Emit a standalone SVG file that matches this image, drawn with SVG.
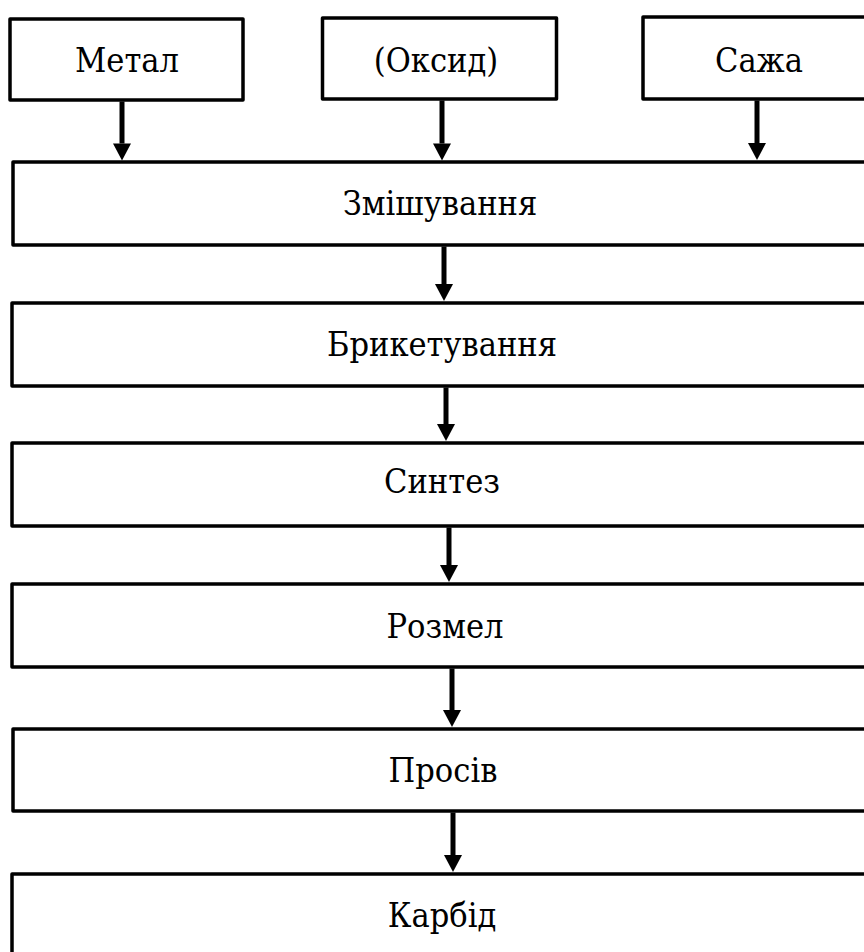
<svg xmlns="http://www.w3.org/2000/svg" width="864" height="952" viewBox="0 0 864 952">
  <style>
    .box { fill: #ffffff; stroke: #000000; stroke-width: 3.5; stroke-linejoin: round; }
    .lbl { font-family: "DejaVu Serif Condensed", "DejaVu Serif", serif; font-stretch: condensed; font-size: 34px; fill: #000000; text-anchor: middle; }
    .conn { stroke: #000000; stroke-width: 5; fill: none; marker-end: url(#ah); }
  </style>
  <defs>
    <marker id="ah" markerUnits="userSpaceOnUse" markerWidth="18" markerHeight="18" refX="0" refY="9" orient="auto" viewBox="0 0 17 18">
      <path d="M0,0 L17,9 L0,18 z" fill="#000000"/>
    </marker>
  </defs>
  <rect x="0" y="0" width="864" height="952" fill="#ffffff"/>

  <g id="metal">
    <rect class="box" x="10" y="19" width="233" height="81"/>
    <text class="lbl" x="127" y="72">Метал</text>
  </g>
  <g id="oksyd">
    <rect class="box" x="322.5" y="18" width="234" height="81"/>
    <text class="lbl" x="436" y="72">(Оксид)</text>
  </g>
  <g id="sazha">
    <rect class="box" x="643" y="17" width="240" height="82"/>
    <text class="lbl" x="759" y="72">Сажа</text>
  </g>
  <g id="zmishuvannia">
    <rect class="box" x="13" y="162" width="880" height="83"/>
    <text class="lbl" x="440" y="215">Змішування</text>
  </g>
  <g id="bryketuvannia">
    <rect class="box" x="12" y="303" width="880" height="83"/>
    <text class="lbl" x="442" y="356">Брикетування</text>
  </g>
  <g id="syntez">
    <rect class="box" x="12" y="443" width="880" height="83"/>
    <text class="lbl" x="442" y="493">Синтез</text>
  </g>
  <g id="rozmel">
    <rect class="box" x="12" y="584" width="880" height="83"/>
    <text class="lbl" x="445" y="638">Розмел</text>
  </g>
  <g id="prosiv">
    <rect class="box" x="13" y="729" width="880" height="82"/>
    <text class="lbl" x="443" y="782">Просів</text>
  </g>
  <g id="karbid">
    <rect class="box" x="12" y="874" width="880" height="100"/>
    <text class="lbl" x="442" y="927">Карбід</text>
  </g>

  <g id="connectors">
    <line class="conn" x1="122" y1="101.5" x2="122" y2="143.5"/>
    <line class="conn" x1="442" y1="100.5" x2="442" y2="143.5"/>
    <line class="conn" x1="757" y1="100.5" x2="757" y2="143"/>
    <line class="conn" x1="444" y1="246.5" x2="444" y2="284"/>
    <line class="conn" x1="446" y1="387.5" x2="446" y2="424"/>
    <line class="conn" x1="449" y1="527.5" x2="449" y2="565"/>
    <line class="conn" x1="452" y1="668.5" x2="452" y2="710"/>
    <line class="conn" x1="453" y1="812.5" x2="453" y2="855"/>
  </g>
</svg>
